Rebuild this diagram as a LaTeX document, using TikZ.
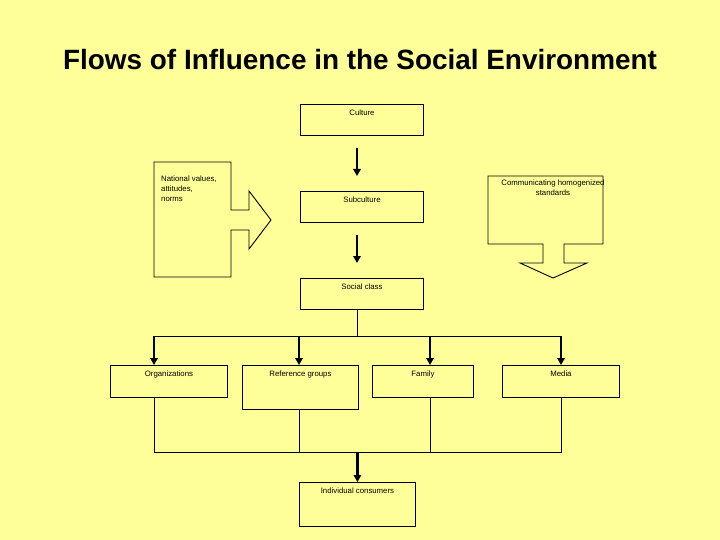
\documentclass[tikz,border=0pt]{standalone}
\usepackage{fontspec}
\setmainfont{Liberation Sans}
\usetikzlibrary{arrows.meta, positioning, calc}
\definecolor{cPaper}{RGB}{255,255,153}
\tikzset{
	box/.style   ={rectangle, draw=black, line width=0.9pt, fill=cPaper, inner sep=0pt, anchor=north west},
	boxtxt/.style={font=\fontsize{7.8}{10}\selectfont, inner sep=0pt},
	flow/.style  ={-{Triangle[length=7pt,width=7.5pt]}, line width=2.2pt},
	wire/.style  ={line width=0.9pt},
}

\begin{document}
\begin{tikzpicture}[x=1pt, y=-1pt]
						\fill[cPaper] (0,0) rectangle (720,540);
						\useasboundingbox (0,0) rectangle (720,540);
						\node[font=\fontsize{27.9}{34}\selectfont\bfseries] (title) at (360,60) {Flows of Influence in the Social Environment};
						% main column
						\coordinate (spine) at (357,0);
						\node[box, minimum width=123pt, minimum height=31pt] (cult) at (300,104) {};
						\node[box, minimum width=123pt, minimum height=31pt] (sub) at (300,191) {};
						\node[box, minimum width=123pt, minimum height=31pt] (soc) at (300,278) {};
						\node[boxtxt, anchor=north] (cultT) at ($(cult.north)+(0,5.5)$) {Culture};
						\node[boxtxt, anchor=north] (subT) at ($(sub.north)+(0,5.5)$) {Subculture};
						\node[boxtxt, anchor=north] (socT) at ($(soc.north)+(0,5.5)$) {Social class};
						\draw[flow, shorten <=12pt, shorten >=15pt] (cult.south -| spine) -- (sub.north -| spine);
						\draw[flow, shorten <=12pt, shorten >=15pt] (sub.south -| spine) -- (soc.north -| spine);
						% side block arrows
						\draw[wire, fill=cPaper] (154,162) -- (231,162) -- (231,210) -- (249,210) -- (249,191) -- (271,220)
							-- (249,249) -- (249,230) -- (231,230) -- (231,277) -- (154,277) -- cycle;
						\node[boxtxt, anchor=north west, align=left] (natl) at (161,176) {National values,\\attitudes,\\norms};
						\draw[wire, fill=cPaper] (488,176) -- (603,176) -- (603,244) -- (564,244) -- (564,263) -- (587,263) -- (553,278)
							-- (520,263) -- (543,263) -- (543,244) -- (488,244) -- cycle;
						\node[boxtxt, anchor=north, align=center] (comm) at (553,180) {Communicating homogenized\\standards};
						% groups
						\node[box, minimum width=117pt, minimum height=32pt] (org) at (110,365) {};
						\node[box, minimum width=116pt, minimum height=44pt] (ref) at (242,365) {};
						\node[box, minimum width=101pt, minimum height=32pt] (fam) at (372,365) {};
						\node[box, minimum width=117pt, minimum height=32pt] (med) at (502,365) {};
						\node[box, minimum width=116pt, minimum height=44pt] (ind) at (299,482) {};
						\node[boxtxt, anchor=north] (orgT) at ($(org.north)+(0,5.5)$) {Organizations};
						\node[boxtxt, anchor=north] (refT) at ($(ref.north)+(0,5.5)$) {Reference groups};
						\node[boxtxt, anchor=north] (famT) at ($(fam.north)+(0,5.5)$) {Family};
						\node[boxtxt, anchor=north] (medT) at ($(med.north)+(0,5.5)$) {Media};
						\node[boxtxt, anchor=north] (indT) at ($(ind.north)+(0,5.5)$) {Individual consumers};
						\coordinate (b1) at (154,336); \coordinate (b2) at (299,336);
						\coordinate (b3) at (430,336); \coordinate (b4) at (561,336);
						\coordinate (j1) at (154,452); \coordinate (j4) at (561,452);
						\draw[wire] (soc.south -| spine) -- (spine |- b1);
						\draw[wire] (b1) -- (b4);
						\draw[flow] (b1) -- (b1 |- org.north); \draw[flow] (b2) -- (b2 |- ref.north);
						\draw[flow] (b3) -- (b3 |- fam.north); \draw[flow] (b4) -- (b4 |- med.north);
						\draw[wire] (org.south -| j1) -- (j1) -- (j4) -- (med.south -| j4);
						\draw[wire] (ref.south -| b2) -- (b2 |- j1); \draw[wire] (fam.south -| b3) -- (b3 |- j1);
						\draw[flow] (ind.north |- j1) -- (ind.north);
					\end{tikzpicture}
\end{document}
